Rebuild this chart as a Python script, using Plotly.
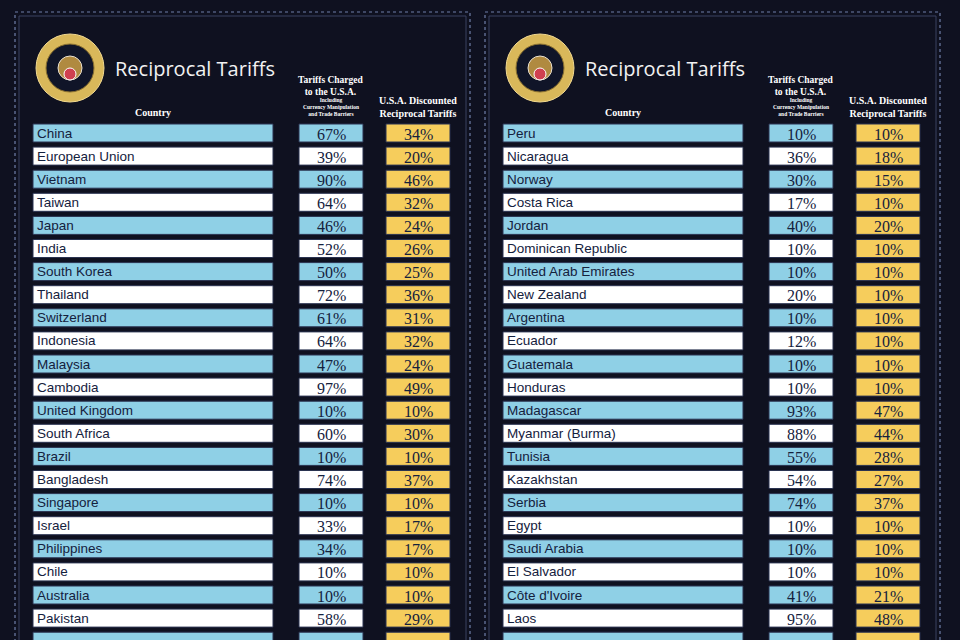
import plotly.graph_objects as go

left_countries = ["China","European Union","Vietnam","Taiwan","Japan","India","South Korea","Thailand","Switzerland","Indonesia","Malaysia","Cambodia","United Kingdom","South Africa","Brazil","Bangladesh","Singapore","Israel","Philippines","Chile","Australia","Pakistan","Turkey"]
left_charged = [67,39,90,64,46,52,50,72,61,64,47,97,10,60,10,74,10,33,34,10,10,58,10]
left_recip = [34,20,46,32,24,26,25,36,31,32,24,49,10,30,10,37,10,17,17,10,10,29,10]
right_countries = ["Peru","Nicaragua","Norway","Costa Rica","Jordan","Dominican Republic","United Arab Emirates","New Zealand","Argentina","Ecuador","Guatemala","Honduras","Madagascar","Myanmar (Burma)","Tunisia","Kazakhstan","Serbia","Egypt","Saudi Arabia","El Salvador","Côte d'Ivoire","Laos","Botswana"]
right_charged = [10,36,30,17,40,10,10,20,10,12,10,10,93,88,55,54,74,10,10,10,41,95,74]
right_recip = [10,18,15,10,20,10,10,10,10,10,10,10,47,44,28,27,37,10,10,10,21,48,37]

BG = "#0f1120"
BLUE = "#8fd0e6"
YEL = "#f6cd5c"
WHITE = "#ffffff"
TXT = "#14213d"

fig = go.Figure()
shapes, ann = [], []
Y0, PITCH, H = 133, 23.1, 18

def panel(ox, countries, charged, recip):
    shapes.append(dict(type="rect", x0=ox+15, x1=ox+470, y0=12, y1=700, line=dict(color="#6f7fa8", width=1.2, dash="dot"), fillcolor=BG))
    shapes.append(dict(type="rect", x0=ox+19, x1=ox+466, y0=16, y1=700, line=dict(color="#3a4260", width=1), fillcolor="rgba(0,0,0,0)"))
    shapes.append(dict(type="circle", x0=ox+36, x1=ox+104, y0=34, y1=102, fillcolor="#d9b85a", line=dict(color="#f0d890", width=1)))
    shapes.append(dict(type="circle", x0=ox+46, x1=ox+94, y0=44, y1=92, fillcolor="#101528", line=dict(color="#8a7030", width=1)))
    shapes.append(dict(type="circle", x0=ox+58, x1=ox+82, y0=56, y1=80, fillcolor="#b08a40", line=dict(color="#e8e0d0", width=1)))
    shapes.append(dict(type="circle", x0=ox+64, x1=ox+76, y0=68, y1=80, fillcolor="#d04050", line=dict(color="#ffffff", width=1)))
    ann.append(dict(x=ox+113, y=68, text="Reciprocal Tariffs", showarrow=False, xanchor="left", yanchor="middle",
                    font=dict(family="Open Sans", size=20, color="#f2f2f2")))
    ann.append(dict(x=ox+153, y=112, text="<b>Country</b>", showarrow=False, font=dict(family="Liberation Serif", size=10, color="white")))
    ann.append(dict(x=ox+331, y=86, text="<b>Tariffs Charged<br>to the U.S.A.</b>", showarrow=False, font=dict(family="Liberation Serif", size=9.5, color="white")))
    ann.append(dict(x=ox+331, y=107, text="<b>Including<br>Currency Manipulation<br>and Trade Barriers</b>", showarrow=False, font=dict(family="Liberation Serif", size=5.5, color="white")))
    ann.append(dict(x=ox+418, y=107, text="<b>U.S.A. Discounted<br>Reciprocal Tariffs</b>", showarrow=False, font=dict(family="Liberation Serif", size=10, color="white")))
    for i, (c, a, b) in enumerate(zip(countries, charged, recip)):
        yc = Y0 + i*PITCH
        fill = BLUE if i % 2 == 0 else WHITE
        for x0, x1, f in [(ox+33, ox+273, fill), (ox+299, ox+363, fill), (ox+386, ox+450, YEL)]:
            shapes.append(dict(type="rect", x0=x0, x1=x1, y0=yc-H/2, y1=yc+H/2, fillcolor=f, line=dict(color="#2a3350", width=1)))
        ann.append(dict(x=ox+35, y=yc, text=c, showarrow=False, xanchor="left", yanchor="middle",
                        font=dict(family="Liberation Sans Narrow, Liberation Sans", size=13.5, color=TXT)))
        ann.append(dict(x=ox+331, y=yc+1, text=f"{a}%", showarrow=False, yanchor="middle", font=dict(family="Liberation Serif", size=16, color=TXT)))
        ann.append(dict(x=ox+418, y=yc+1, text=f"{b}%", showarrow=False, yanchor="middle", font=dict(family="Liberation Serif", size=16, color=TXT)))

panel(0, left_countries, left_charged, left_recip)
panel(470, right_countries, right_charged, right_recip)

fig.update_layout(width=960, height=640, margin=dict(l=0, r=0, t=0, b=0),
                  paper_bgcolor=BG, plot_bgcolor=BG, shapes=shapes, annotations=ann, showlegend=False,
                  xaxis=dict(range=[0, 960], visible=False, fixedrange=True),
                  yaxis=dict(range=[640, 0], visible=False, fixedrange=True))
fig.write_html("out.html", config={"displayModeBar": False})
with open("out.html", encoding="utf-8") as f:
    html = f.read()
html = html.replace("<body>", '<body style="margin:0;background:#0f1120;overflow:hidden">', 1)
with open("out.html", "w", encoding="utf-8") as f:
    f.write(html)
